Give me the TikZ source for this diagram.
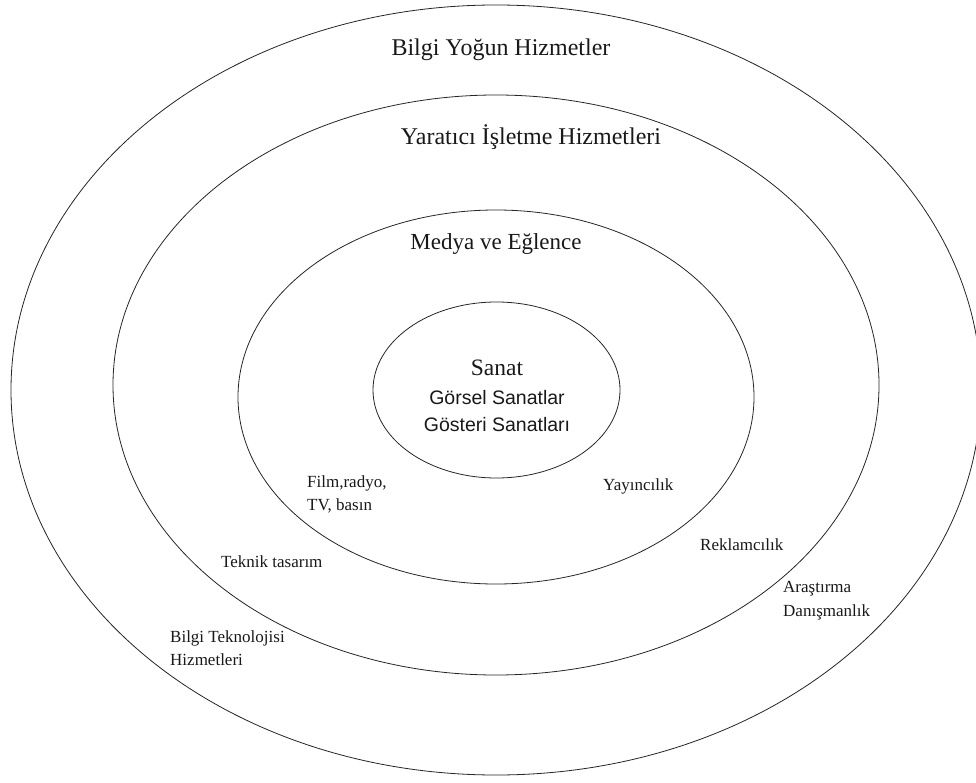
\documentclass[tikz,border=0pt]{standalone}
\usepackage{fontspec}
\setmainfont{Liberation Serif}
\newfontfamily\labelsans{Liberation Sans}
\begin{document}
\begin{tikzpicture}[x=1pt,y=-1pt,
  ring/.style={draw=black!85, line width=0.8pt},
  title/.style={inner sep=0pt, text=black!90, font=\fontsize{24}{28}\selectfont},
  item/.style={inner sep=0pt, anchor=west, align=left, text=black!90,
    font=\fontsize{17}{24}\selectfont},
  core/.style={inner sep=0pt, text=black!90, font=\labelsans\fontsize{19.5}{23}\selectfont}]
  \useasboundingbox (0,0) rectangle (976,783);
  \fill[white] (0,0) rectangle (976,783);

  % four nested rings
  \draw[ring] (496,390) ellipse [x radius=485pt, y radius=385pt];
  \draw[ring] (496,385) ellipse [x radius=383pt, y radius=290pt];
  \draw[ring] (496,397) ellipse [x radius=258pt, y radius=187pt];
  \draw[ring] (496.5,390) ellipse [x radius=123.5pt, y radius=88pt];

  % ring titles
  \node[title] (bilgi) at (501,50) {Bilgi Yoğun Hizmetler};
  \node[title] (yaratici) at (531,137) {Yaratıcı İşletme Hizmetleri};
  \node[title, font=\fontsize{23}{27}\selectfont] (medya) at (496,244) {Medya ve Eğlence};

  % core
  \node[title, font=\fontsize{23.5}{27}\selectfont] (sanat) at (497,368) {Sanat};
  \node[core] (gorsel) at (497,398) {Görsel Sanatlar};
  \node[core] (gosteri) at (497,425) {Gösteri Sanatları};

  % sector labels
  \node[item, font=\fontsize{17}{23}\selectfont] (film) at (307,494) {Film,radyo,\\TV, basın};
  \node[item] (yayin) at (603,486) {Yayıncılık};
  \node[item] (teknik) at (221,562) {Teknik tasarım};
  \node[item] (reklam) at (700,545) {Reklamcılık};
  \node[item] (arastirma) at (783,601) {Araştırma\\Danışmanlık};
  \node[item, font=\fontsize{17}{23}\selectfont] (bt) at (170,648) {Bilgi Teknolojisi\\Hizmetleri};
\end{tikzpicture}
\end{document}
